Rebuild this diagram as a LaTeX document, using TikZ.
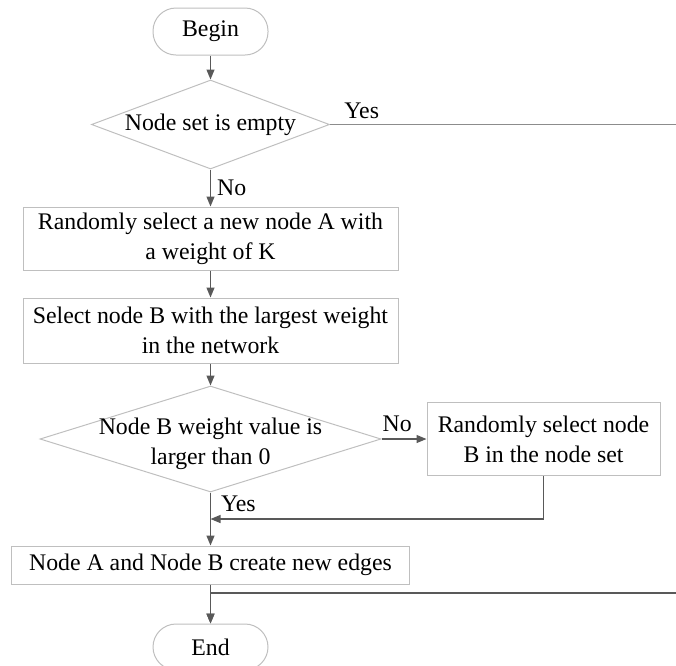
\documentclass[tikz,border=0pt]{standalone}
\usepackage{fontspec}
\setmainfont{Liberation Serif}
\usetikzlibrary{arrows.meta,positioning,shapes.geometric,calc}
\definecolor{boxline}{HTML}{BFBFBF}
\definecolor{flowline}{HTML}{595959}
\definecolor{exitline}{HTML}{8C8C8C}

\begin{document}
\begin{tikzpicture}[x=1pt, y=1pt,
  every node/.style={font=\fontsize{23.8}{30}\selectfont},
  term/.style={draw=boxline, line width=1pt, rounded corners=23pt, minimum width=115pt, minimum height=47pt, inner sep=0pt},
  proc/.style={draw=boxline, line width=1pt, align=center, inner sep=0pt},
  dec/.style={draw=boxline, line width=1pt, diamond, inner sep=0pt},
  arr/.style={-{Triangle[length=10pt, width=8pt]}, draw=flowline, line width=1.2pt},
  lbl/.style={inner sep=0pt}]
\useasboundingbox (0,0) rectangle (676,-665);
\node[term] (begin) at (210.5,-31.5) {Begin};
\node[dec, minimum width=238pt, minimum height=89pt, below=24pt of begin, label=center:{Node set is empty}] (empty) {};
\node[proc, minimum width=375pt, minimum height=63pt, below=37pt of empty] (pickA) {Randomly select a new node A with\\a weight of K};
\node[proc, minimum width=375pt, minimum height=65pt, below=27pt of pickA] (pickB) {Select node B with the largest weight\\in the network};
\node[dec, minimum width=341pt, minimum height=106pt, below=22pt of pickB, label={[align=center, yshift=-5pt]center:Node B weight value is\\larger than 0}] (check) {};
\node[proc, minimum width=233pt, minimum height=73pt, right=45pt of check] (pickRand) {Randomly select node\\B in the node set};
\node[proc, minimum width=398pt, minimum height=38pt, below=53pt of check] (create) {Node A and Node B create new edges};
\node[term, minimum height=46pt, below=39pt of create] (end) {End};
% free ends and junction
\coordinate (exitTop) at (empty.east -| 676,0);
\coordinate (exitBot) at (676,-593);
\coordinate (join) at ($(check.south)!0.5!(create.north)$);
\draw[arr] (begin) -- (empty);
\draw[arr] (empty) -- node[lbl, midway, right=6pt] {No} (pickA);
\draw[arr] (pickA) -- (pickB);
\draw[arr] (pickB) -- (check);
\draw[arr] (check) -- node[lbl, pos=0.35, above=7pt] {No} (pickRand);
\draw[arr] (check) -- node[lbl, pos=0.22, right=10pt] {Yes} (create);
\draw[arr] (pickRand.south) |- (join);
\draw[arr] (create) -- (end);
\draw[draw=exitline, line width=1.2pt] (empty.east) -- node[lbl, pos=0.04, anchor=south west, yshift=5pt] {Yes} (exitTop);
\draw[arr] (exitBot) -| (end);
\end{tikzpicture}
\end{document}
